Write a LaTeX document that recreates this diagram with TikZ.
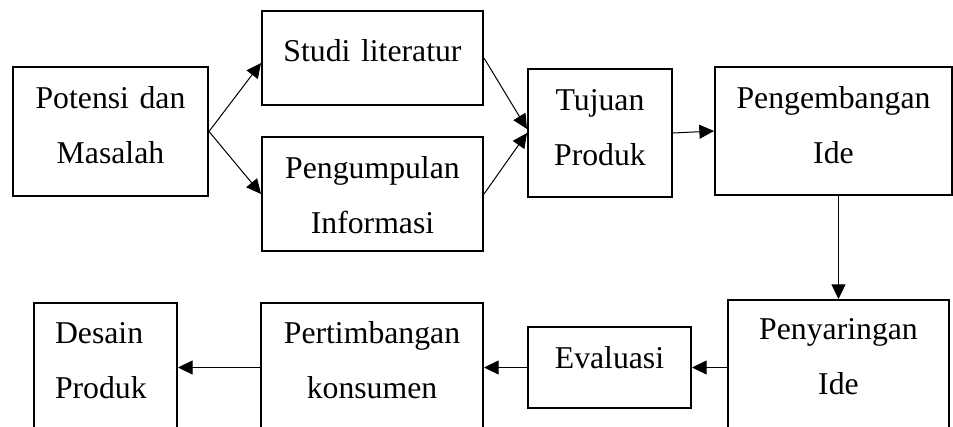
\documentclass[tikz,border=0pt]{standalone}
\usepackage{fontspec}
\setmainfont{Liberation Serif}
\usetikzlibrary{arrows.meta}
\newdimen\px \px=0.75pt

\begin{document}
\begin{tikzpicture}[x=0.75pt,y=-0.75pt,
    kotak/.style={draw,line width=1.5pt,inner sep=0pt,align=center,anchor=north west,font=\fontsize{23.8}{41.25}\selectfont},
    panah/.style={line width=0.75pt,-{Triangle[length=11pt,width=10.5pt]}}]
  \useasboundingbox (0,0) rectangle (953,426);\clip (0,0) rectangle (953,426);
  % baris atas
  \node[kotak,text width=195\px,text height=41\px,text depth=88\px] (potensi) at (12,66) {Potensi dan\\Masalah};
  \node[kotak,text width=221\px,text height=50\px,text depth=44\px] (studi) at (261,10) {Studi literatur};
  \node[kotak,text width=221\px,text height=41\px,text depth=73\px] (kumpul) at (261,136) {Pengumpulan\\Informasi};
  \node[kotak,text width=144\px,text height=41\px,text depth=87\px] (tujuan) at (527,68) {Tujuan\\Produk};
  \node[kotak,text width=237\px,text height=41\px,text depth=87\px] (kembang) at (714,66) {Pengembangan\\Ide};
  % baris bawah
  \node[kotak,text width=221\px,text height=39\px,text depth=111\px] (saring) at (727,299) {Penyaringan\\Ide};
  \node[kotak,text width=163\px,text height=41\px,text depth=40\px] (evaluasi) at (527,326) {Evaluasi};
  \node[kotak,text width=222\px,text height=40\px,text depth=110\px] (timbang) at (260,302) {Pertimbangan\\konsumen};
  \node[kotak,align=left,inner xsep=21\px,text width=101\px,text height=40\px,text depth=110\px] (desain) at (33,302) {Desain\\Produk};
  % panah
  \draw[panah] (potensi.east) -- ([yshift=-5\px]studi.west);
  \draw[panah] (potensi.east) -- (kumpul.west);
  \draw[panah] (studi.east) -- ([yshift=4\px]tujuan.west);
  \draw[panah] (kumpul.east) -- (tujuan.west);
  \draw[panah] (tujuan.east) -- (kembang.west);
  \draw[panah] (kembang.south -| saring.north) -- (saring.north);
  \draw[panah] (saring.west |- evaluasi.east) -- (evaluasi.east);
  \draw[panah] (evaluasi.west) -- (timbang.east |- evaluasi.west);
  \draw[panah] (timbang.west |- evaluasi.west) -- (desain.east |- evaluasi.west);
\end{tikzpicture}
\end{document}
